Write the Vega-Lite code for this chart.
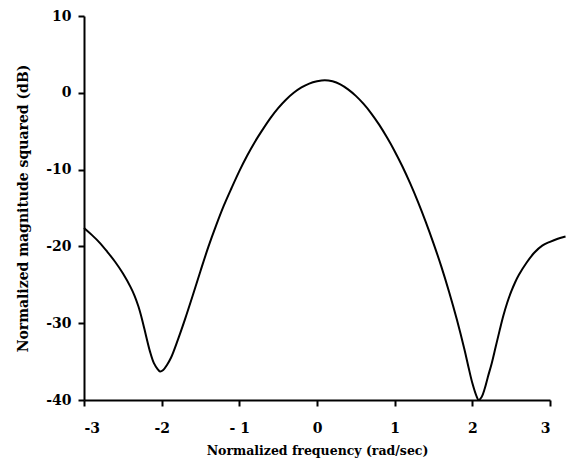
{
  "$schema": "https://vega.github.io/schema/vega-lite/v6.json",
  "autosize": "none",
  "width": 466,
  "height": 384,
  "padding": {"left": 84, "top": 16, "right": 19, "bottom": 68},
  "background": "white",
  "config": {
    "view": {"stroke": null},
    "font": "DejaVu Serif"
  },
  "data": {
    "values": [
      {"f": -3.0, "db": -17.6},
      {"f": -2.9, "db": -18.5},
      {"f": -2.8, "db": -19.5},
      {"f": -2.7, "db": -20.7},
      {"f": -2.6, "db": -22.0},
      {"f": -2.5, "db": -23.5},
      {"f": -2.4, "db": -25.3},
      {"f": -2.35, "db": -26.4},
      {"f": -2.3, "db": -27.8},
      {"f": -2.25, "db": -29.6},
      {"f": -2.2, "db": -31.7},
      {"f": -2.15, "db": -33.7},
      {"f": -2.1, "db": -35.2},
      {"f": -2.05, "db": -36.0},
      {"f": -2.02, "db": -36.3},
      {"f": -1.98, "db": -36.1},
      {"f": -1.93, "db": -35.4},
      {"f": -1.88, "db": -34.5},
      {"f": -1.8, "db": -32.4},
      {"f": -1.7, "db": -29.5},
      {"f": -1.6, "db": -26.4},
      {"f": -1.5, "db": -23.2},
      {"f": -1.4, "db": -20.1},
      {"f": -1.3, "db": -17.3},
      {"f": -1.2, "db": -14.7},
      {"f": -1.1, "db": -12.4},
      {"f": -1.0, "db": -10.2},
      {"f": -0.9, "db": -8.2},
      {"f": -0.8, "db": -6.4},
      {"f": -0.7, "db": -4.8},
      {"f": -0.6, "db": -3.3},
      {"f": -0.5, "db": -2.0},
      {"f": -0.4, "db": -0.9},
      {"f": -0.3, "db": 0.0},
      {"f": -0.2, "db": 0.7},
      {"f": -0.1, "db": 1.2},
      {"f": 0.0, "db": 1.5},
      {"f": 0.1, "db": 1.65},
      {"f": 0.2, "db": 1.5},
      {"f": 0.3, "db": 1.1},
      {"f": 0.4, "db": 0.45},
      {"f": 0.5, "db": -0.4},
      {"f": 0.6, "db": -1.45},
      {"f": 0.7, "db": -2.7},
      {"f": 0.8, "db": -4.15},
      {"f": 0.9, "db": -5.8},
      {"f": 1.0, "db": -7.6},
      {"f": 1.1, "db": -9.6},
      {"f": 1.2, "db": -11.8},
      {"f": 1.3, "db": -14.2},
      {"f": 1.4, "db": -16.8},
      {"f": 1.5, "db": -19.6},
      {"f": 1.6, "db": -22.6},
      {"f": 1.7, "db": -25.9},
      {"f": 1.8, "db": -29.5},
      {"f": 1.9, "db": -33.5},
      {"f": 1.95, "db": -35.7},
      {"f": 2.0, "db": -37.8},
      {"f": 2.05, "db": -39.4},
      {"f": 2.08, "db": -40.0},
      {"f": 2.12, "db": -39.6},
      {"f": 2.16, "db": -38.5},
      {"f": 2.2, "db": -37.0},
      {"f": 2.25, "db": -35.2},
      {"f": 2.3, "db": -33.1},
      {"f": 2.35, "db": -31.0},
      {"f": 2.4, "db": -29.0},
      {"f": 2.45, "db": -27.3},
      {"f": 2.5, "db": -25.9},
      {"f": 2.55, "db": -24.7},
      {"f": 2.6, "db": -23.7},
      {"f": 2.7, "db": -22.1},
      {"f": 2.8, "db": -20.8},
      {"f": 2.9, "db": -19.9},
      {"f": 3.0, "db": -19.4},
      {"f": 3.1, "db": -19.0},
      {"f": 3.2, "db": -18.7}
    ]
  },
  "mark": {"type": "line", "color": "black", "strokeWidth": 2, "clip": false, "interpolate": "catmull-rom"},
  "encoding": {
    "x": {
      "field": "f",
      "type": "quantitative",
      "scale": {"domain": [-3, 3], "nice": false, "zero": false},
      "axis": {
        "title": "Normalized frequency (rad/sec)",
        "values": [-3, -2, -1, 0, 1, 2, 3],
        "labelExpr": "datum.value == -1 ? '- 1' : toString(datum.value)",
        "grid": false,
        "domainColor": "black",
        "domainWidth": 2,
        "tickColor": "black",
        "tickWidth": 2,
        "tickSize": 6,
        "labelFont": "DejaVu Serif",
        "labelFontWeight": "bold",
        "labelFontSize": 14,
        "labelColor": "black",
        "labelPadding": 15,
        "titleFont": "DejaVu Serif",
        "titleFontWeight": "bold",
        "titleFontSize": 12.5,
        "titleColor": "black",
        "titlePadding": 9
      }
    },
    "y": {
      "field": "db",
      "type": "quantitative",
      "scale": {"domain": [-40, 10], "nice": false, "zero": false},
      "axis": {
        "title": "Normalized magnitude squared (dB)",
        "values": [-40, -30, -20, -10, 0, 10],
        "labelExpr": "toString(datum.value)",
        "grid": false,
        "domainColor": "black",
        "domainWidth": 2,
        "tickColor": "black",
        "tickWidth": 2,
        "tickSize": 6,
        "labelFont": "DejaVu Serif",
        "labelFontWeight": "bold",
        "labelFontSize": 14,
        "labelColor": "black",
        "labelPadding": 7,
        "titleFont": "DejaVu Serif",
        "titleFontWeight": "bold",
        "titleFontSize": 14,
        "titleColor": "black",
        "titlePadding": 15
      }
    }
  }
}
